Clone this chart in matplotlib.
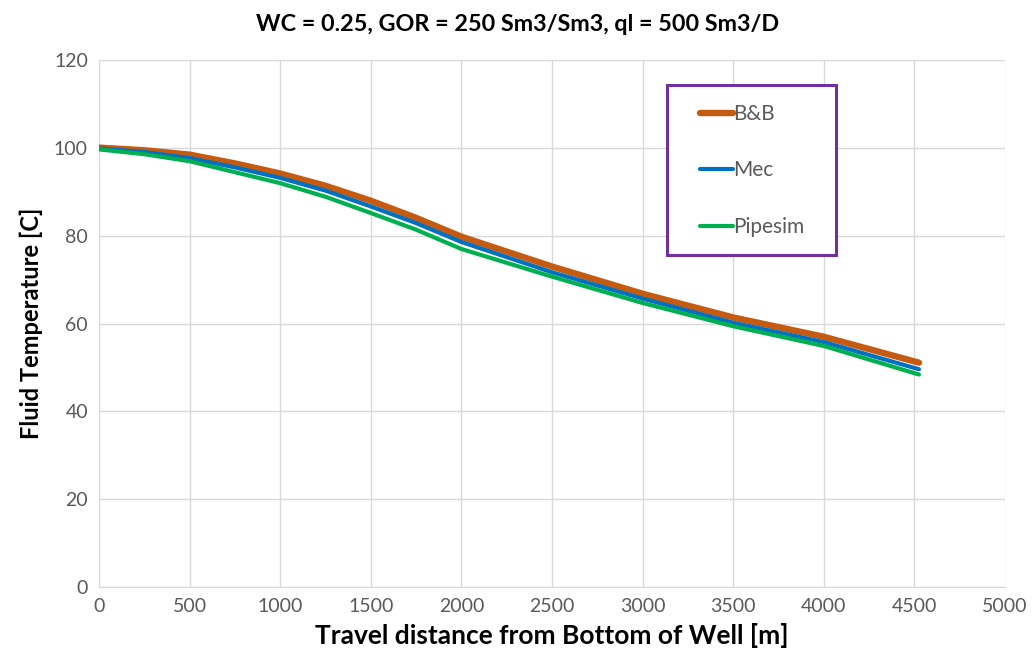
import numpy as np
import matplotlib.pyplot as plt
from matplotlib.patches import Rectangle

plt.rcParams['font.family'] = ['Lato', 'DejaVu Sans']

# travel distance [m]
dist = [0, 250, 500, 750, 1000, 1250, 1500, 1750, 2000, 2500, 3000, 3500, 4000, 4525]

# fluid temperature [C]
bb = [100.1, 99.5, 98.5, 96.5, 94.2, 91.4, 88.0, 84.1, 79.8, 73.0, 66.8, 61.4, 57.0, 51.1]
mec = [99.9, 99.1, 97.7, 95.6, 93.2, 90.3, 86.7, 82.9, 78.6, 71.7, 65.7, 60.2, 55.8, 49.6]
pipesim = [99.7, 98.6, 97.0, 94.5, 92.0, 88.9, 85.2, 81.4, 77.0, 70.7, 64.7, 59.4, 54.9, 48.4]

xticks = np.arange(0, 5001, 500)
yticks = np.arange(0, 121, 20)

fig = plt.figure(figsize=(10.36, 6.70), dpi=100)
ax = fig.add_axes([0.0956, 0.124, 0.8745, 0.786])

ax.plot(dist, bb, color="#C55A11", lw=4.6, label="B&B", solid_capstyle="round")
ax.plot(dist, mec, color="#0070C0", lw=3.0, label="Mec", solid_capstyle="round")
ax.plot(dist, pipesim, color="#00B050", lw=3.0, label="Pipesim", solid_capstyle="round")

ax.set_xlim(0, 5000)
ax.set_ylim(0, 120)
ax.set_xticks(xticks)
ax.set_yticks(yticks)
ax.grid(True, color="#D9D9D9", lw=1)
ax.set_axisbelow(True)
for s in ["top", "right", "left"]:
    ax.spines[s].set_visible(False)
ax.spines["bottom"].set_color("#D9D9D9")
ax.tick_params(length=0, labelsize=14, colors="#595959", pad=8)

# title is centred on the whole figure, not the axes
fig.text(0.5, 0.963, "WC = 0.25, GOR = 250 Sm3/Sm3, ql = 500 Sm3/D",
         fontsize=16.8, fontweight="bold", ha="center", va="center")
ax.set_xlabel("Travel distance from Bottom of Well [m]", fontsize=19,
              fontweight="bold", labelpad=6)
ax.set_ylabel("Fluid Temperature [C]", fontsize=17, fontweight="bold", labelpad=8)

# legend entries without frame, purple box drawn separately
leg = ax.legend(loc="upper left", bbox_to_anchor=(0.663, 0.917), fontsize=15,
                handlelength=1.6, handletextpad=0.0, labelspacing=1.75,
                borderpad=0, frameon=False, borderaxespad=0)
for t in leg.get_texts():
    t.set_color("#595959")
ax.add_patch(Rectangle((0.627, 0.63), 0.186, 0.324, transform=ax.transAxes,
                       facecolor="white", edgecolor="#7030A0", lw=2.2, zorder=4))
leg.set_zorder(5)

fig.savefig("out.png", dpi=100)
